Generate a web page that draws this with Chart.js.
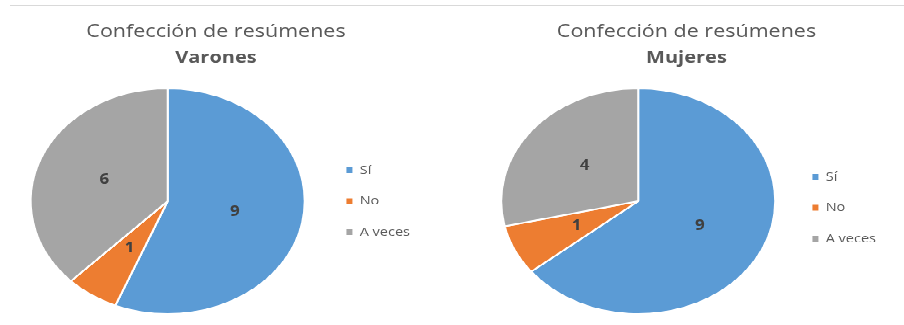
<!DOCTYPE html>
<html lang="es">
<head>
<meta charset="utf-8">
<title>Confección de resúmenes</title>
<script src="https://cdn.jsdelivr.net/npm/chart.js@4.4.1/dist/chart.umd.min.js"></script>
<style>
  html, body { margin: 0; padding: 0; background: #fff; }
  body { width: 904px; height: 325px; position: relative; overflow: hidden; }
  .rule { position: absolute; top: 5px; left: 10px; width: 894px; height: 1px; background: #d9d9d9; }
  /* the charts are drawn round and flattened vertically as a whole */
  .stage { position: absolute; top: 0; left: 0; width: 904px; height: 394px;
           transform: scaleY(0.8245); transform-origin: top left; }
  .stage canvas { position: absolute; top: 0; }
</style>
</head>
<body>
<div class="rule"></div>
<div class="stage">
  <canvas id="varones" width="420" height="394" style="left:0px"></canvas>
  <canvas id="mujeres" width="411" height="394" style="left:475px"></canvas>
</div>
<script>
const categories = ['Sí', 'No', 'A veces'];
const varonesValues = [9, 1, 6];
const mujeresValues = [9, 1, 4];

const sliceColors = ['#5b9bd5', '#ed7d31', '#a5a5a5'];
const FONT = "'Open Sans', 'DejaVu Sans', sans-serif";

// value printed in the middle of each slice
const sliceValues = {
    id: 'sliceValues',
    afterDatasetsDraw(chart) {
        const ctx = chart.ctx;
        const meta = chart.getDatasetMeta(0);
        const values = chart.data.datasets[0].data;
        ctx.save();
        ctx.font = "bold 17px " + FONT;
        ctx.fillStyle = '#404040';
        ctx.textAlign = 'center';
        ctx.textBaseline = 'middle';
        meta.data.forEach((arc, i) => {
            const pos = arc.tooltipPosition();
            ctx.fillText(String(values[i]), pos.x, pos.y);
        });
        ctx.restore();
    }
};

// legendDrop: empty legend title height, pushes the legend column down
function makePie(id, subtitle, values, legendDrop) {
    return new Chart(document.getElementById(id), {
        type: 'pie',
        data: {
            labels: categories,
            datasets: [{
                data: values,
                backgroundColor: sliceColors,
                borderColor: '#ffffff',
                borderWidth: 2
            }]
        },
        options: {
            responsive: false,
            animation: false,
            layout: { padding: { left: 12, right: 0, top: 0, bottom: 12 } },
            plugins: {
                title: {
                    display: true,
                    text: 'Confección de resúmenes',
                    color: '#595959',
                    font: { family: FONT, size: 21.5, weight: 'normal' },
                    padding: { top: 26, bottom: 0 }
                },
                subtitle: {
                    display: true,
                    text: subtitle,
                    color: '#595959',
                    font: { family: FONT, size: 20, weight: 'bold' },
                    padding: { top: 6, bottom: 24.2 }
                },
                legend: {
                    position: 'right',
                    fullSize: false,
                    title: {
                        display: legendDrop > 0,
                        text: '',
                        font: { size: legendDrop, lineHeight: 1 },
                        padding: legendDrop > 0 ? legendDrop / 2 : 0
                    },
                    labels: {
                        color: '#595959',
                        font: { family: FONT, size: 14.5 },
                        boxWidth: 6,
                        boxHeight: 7,
                        padding: 23,
                        generateLabels(chart) {
                            const items = Chart.overrides.pie.plugins.legend.labels.generateLabels(chart);
                            return items.map(item => Object.assign(item, { lineWidth: 0 }));
                        }
                    }
                },
                tooltip: { enabled: false }
            }
        },
        plugins: [sliceValues]
    });
}

makePie('varones', 'Varones', varonesValues, 0);
makePie('mujeres', 'Mujeres', mujeresValues, 8);
</script>
</body>
</html>
